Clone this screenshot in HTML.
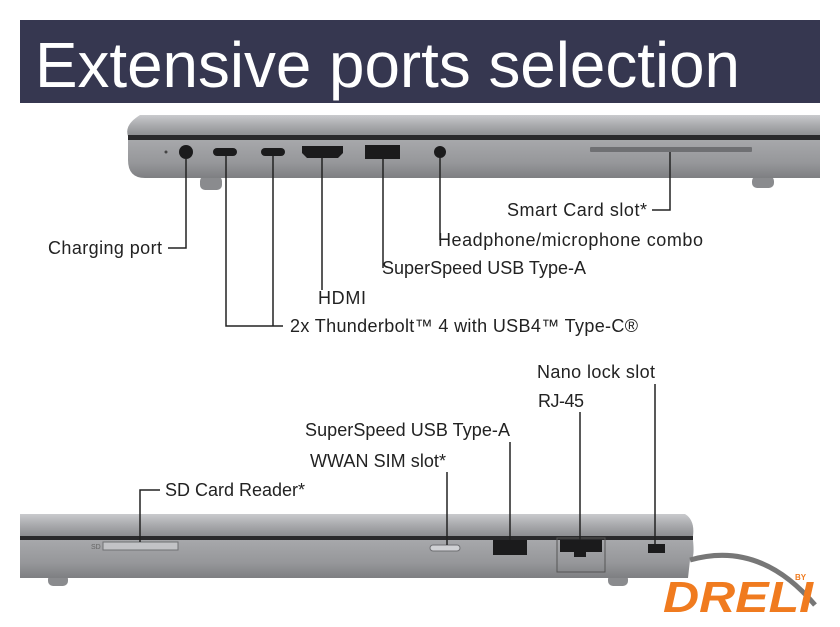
<!DOCTYPE html>
<html><head><meta charset="utf-8"><style>
html,body{margin:0;padding:0;background:#fff}
svg{display:block}
text{font-family:"Liberation Sans",sans-serif}
</style></head><body>
<svg width="840" height="627" viewBox="0 0 840 627" xmlns="http://www.w3.org/2000/svg">
<defs>
<linearGradient id="lid" x1="0" y1="0" x2="0" y2="1"><stop offset="0" stop-color="#c9cacd"/><stop offset="0.5" stop-color="#a9aaad"/><stop offset="1" stop-color="#8d8e91"/></linearGradient>
<linearGradient id="base" x1="0" y1="0" x2="0" y2="1"><stop offset="0" stop-color="#a7a8ab"/><stop offset="0.6" stop-color="#96979a"/><stop offset="1" stop-color="#7e7f82"/></linearGradient>
</defs>
<rect width="840" height="627" fill="#fff"/>
<rect x="20" y="20" width="800" height="83" fill="#363750"/>
<text x="35" y="87" font-size="64" fill="#fff" textLength="705" lengthAdjust="spacingAndGlyphs">Extensive ports selection</text>

<!-- top laptop -->
<rect x="200" y="176" width="22" height="14" rx="5" fill="#8a8b8e"/>
<rect x="752" y="176" width="22" height="12" rx="5" fill="#8a8b8e"/>
<path d="M140 115 H820 V136 H128 Q124 125 140 115 Z" fill="url(#lid)"/>
<rect x="128" y="135" width="692" height="5" fill="#2a2a2c"/>
<path d="M128 140 H820 V178 H145 Q128 178 128 160 Z" fill="url(#base)"/>
<circle cx="166" cy="152" r="1.5" fill="#444"/>
<circle cx="186" cy="152" r="7" fill="#1b1b1c"/>
<rect x="213" y="148" width="24" height="8" rx="4" fill="#1b1b1c"/>
<rect x="261" y="148" width="24" height="8" rx="4" fill="#1b1b1c"/>
<path d="M302 146 H343 V153 L338 158 H307 L302 153 Z" fill="#1b1b1c"/>
<rect x="365" y="145" width="35" height="14" fill="#1b1b1c"/>
<circle cx="440" cy="152" r="6" fill="#1b1b1c"/>
<rect x="590" y="147" width="162" height="5" rx="1" fill="#6f7073"/>

<g stroke="#222" stroke-width="1.5" fill="none">
<path d="M186 158 V248 H168"/>
<path d="M226 156 V326 H283 M273 156 V326"/>
<path d="M322 158 V290"/>
<path d="M383 159 V268"/>
<path d="M440 158 V240"/>
<path d="M670 152 V210 H652"/>
</g>
<g font-size="18" fill="#222" lengthAdjust="spacingAndGlyphs">
<text x="48" y="254" textLength="114">Charging port</text>
<text x="290" y="332" textLength="348">2x Thunderbolt™ 4 with USB4™ Type-C®</text>
<text x="318" y="304" textLength="48">HDMI</text>
<text x="382" y="274" textLength="204">SuperSpeed USB Type-A</text>
<text x="438" y="246" textLength="265">Headphone/microphone combo</text>
<text x="507" y="216" textLength="140">Smart Card slot*</text>
<text x="537" y="378" textLength="118">Nano lock slot</text>
<text x="538" y="407" textLength="46">RJ-45</text>
<text x="305" y="436" textLength="205">SuperSpeed USB Type-A</text>
<text x="310" y="467" textLength="136">WWAN SIM slot*</text>
<text x="165" y="496" textLength="140">SD Card Reader*</text>
</g>

<!-- bottom laptop -->
<rect x="48" y="574" width="20" height="12" rx="5" fill="#8a8b8e"/>
<rect x="608" y="574" width="20" height="12" rx="5" fill="#8a8b8e"/>
<path d="M20 514 H685 Q695 520 693 536 H20 Z" fill="url(#lid)"/>
<rect x="20" y="536" width="673" height="4" fill="#2a2a2c"/>
<path d="M20 540 H693 Q695 560 690 560 L688 578 H20 Z" fill="url(#base)"/>
<rect x="103" y="542" width="75" height="8" fill="#c2c3c6" stroke="#6f7073"/>
<text x="91" y="549" font-size="7" fill="#666">SD</text>
<rect x="430" y="545" width="30" height="6" rx="3" fill="#d0d1d4" stroke="#6f7073"/>
<rect x="493" y="540" width="34" height="15" fill="#1b1b1c"/>
<rect x="557" y="538" width="48" height="34" fill="none" stroke="#555"/>
<rect x="560" y="540" width="42" height="12" fill="#1b1b1c"/>
<rect x="574" y="552" width="12" height="5" fill="#1b1b1c"/>
<rect x="648" y="544" width="17" height="9" fill="#1b1b1c"/>
<g stroke="#222" stroke-width="1.5" fill="none">
<path d="M140 542 V490 H160"/>
<path d="M447 545 V472"/>
<path d="M510 540 V442"/>
<path d="M580 540 V412"/>
<path d="M655 544 V384"/>
</g>

<!-- logo -->
<path d="M690 560 Q760 540 815 605" stroke="#777" stroke-width="5" fill="none"/>
<text x="663" y="612" font-size="44" font-weight="bold" font-style="italic" fill="#f07b1f" textLength="150" lengthAdjust="spacingAndGlyphs">DRELI</text>
<text x="795" y="580" font-size="8" font-weight="bold" fill="#f07b1f">BY</text>
</svg>
</body></html>
